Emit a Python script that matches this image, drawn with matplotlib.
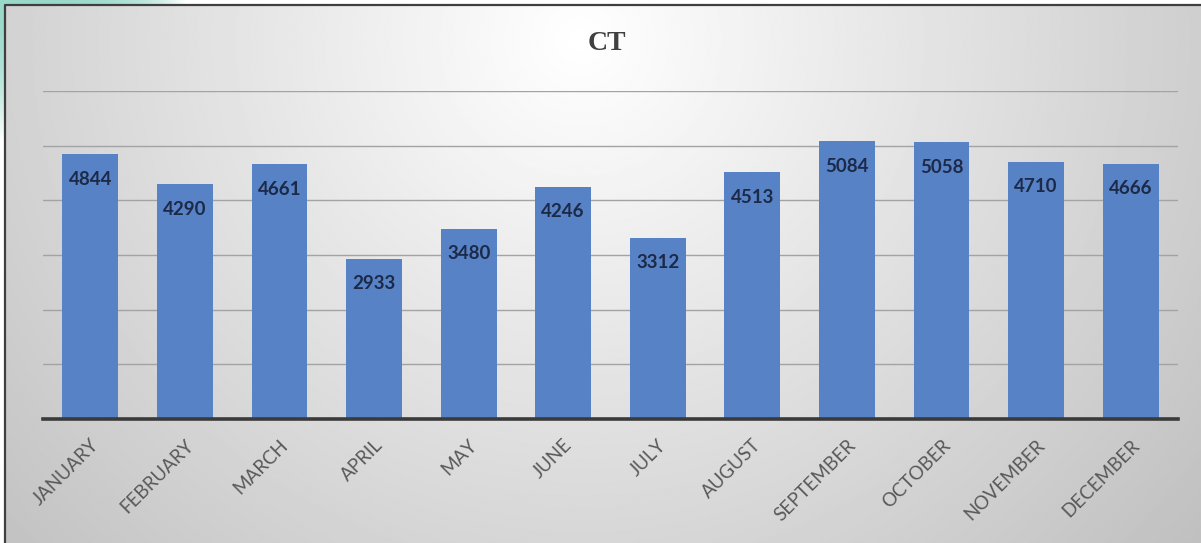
import numpy as np
import matplotlib
matplotlib.use("Agg")
import matplotlib.pyplot as plt
from matplotlib.colors import LinearSegmentedColormap

months = ["JANUARY", "FEBRUARY", "MARCH", "APRIL", "MAY", "JUNE",
          "JULY", "AUGUST", "SEPTEMBER", "OCTOBER", "NOVEMBER", "DECEMBER"]
counts = [4844, 4290, 4661, 2933, 3480, 4246, 3312, 4513, 5084, 5058, 4710, 4666]
yticks = [0, 1000, 2000, 3000, 4000, 5000, 6000]
title = "CT"

W, H = 1201, 543
fig = plt.figure(figsize=(W / 100, H / 100), dpi=100)
fig.patch.set_facecolor("white")

# background layer in pixel coordinates
bg = fig.add_axes([0, 0, 1, 1])
bg.set_xlim(0, W)
bg.set_ylim(H, 0)
bg.axis("off")

# teal corner behind the chart frame
teal = LinearSegmentedColormap.from_list("teal", ["#99d9c8", "#ffffff"])
gx = np.linspace(0, 1, 200)
bg.imshow(gx[None, :] ** 4, cmap=teal, extent=(0, 186, 6, 0), aspect="auto", zorder=0)
bg.imshow(gx[:, None] ** 2, cmap=teal, extent=(0, 6, 140, 0), aspect="auto", zorder=0)

# radial grey gradient inside the chart frame
xs = np.linspace(5, W, 600)
ys = np.linspace(5, H, 300)
X, Y = np.meshgrid(xs, ys)
r = np.sqrt(((X - 580) / 620) ** 2 + ((Y - 40) / 600) ** 2)
shade = np.clip(1 - 0.19 * r, 0, 1)
bg.imshow(shade, cmap="gray", vmin=0, vmax=1, extent=(5, W, H, 5), aspect="auto", zorder=1)
bg.plot([5, 5, W], [H, 5, 5], color="#3f3f3f", lw=1.6, zorder=2, solid_capstyle="butt")

# bar chart
ax = fig.add_axes([43 / W, 1 - 419 / H, (1178 - 43) / W, (419 - 91) / H])
ax.patch.set_alpha(0)
x = np.arange(len(months))
bars = ax.bar(x, counts, width=0.59, color="#5882c6", zorder=3)

ax.set_xlim(-0.5, len(months) - 0.5)
ax.set_ylim(0, yticks[-1])
ax.set_yticks(yticks)
ax.yaxis.grid(True, color="#a3a3a3", lw=1.0, zorder=0)
ax.set_axisbelow(True)
ax.tick_params(axis="y", left=False, labelleft=False)
ax.tick_params(axis="x", bottom=False, pad=9)
for s in ["top", "right", "left"]:
    ax.spines[s].set_visible(False)
ax.spines["bottom"].set_color("#3a3a3a")
ax.spines["bottom"].set_linewidth(2.6)
ax.spines["bottom"].set_zorder(4)

ax.set_xticks(x)
ax.set_xticklabels(months, rotation=45, ha="right", rotation_mode="anchor",
                   fontsize=13.5, color="#595959", family="Lato")

for xi, v in zip(x, counts):
    ax.annotate(str(v), (xi, v), xytext=(0, -18), textcoords="offset points",
                ha="center", va="center", fontsize=13.5, fontweight="bold",
                color="#1c2a48", family="Lato", zorder=5)

fig.text(607 / W, 1 - 43 / H, title, ha="center", va="center", fontsize=20,
         fontweight="bold", family="Liberation Serif", color="#404040")

fig.savefig("out.png", dpi=100)
